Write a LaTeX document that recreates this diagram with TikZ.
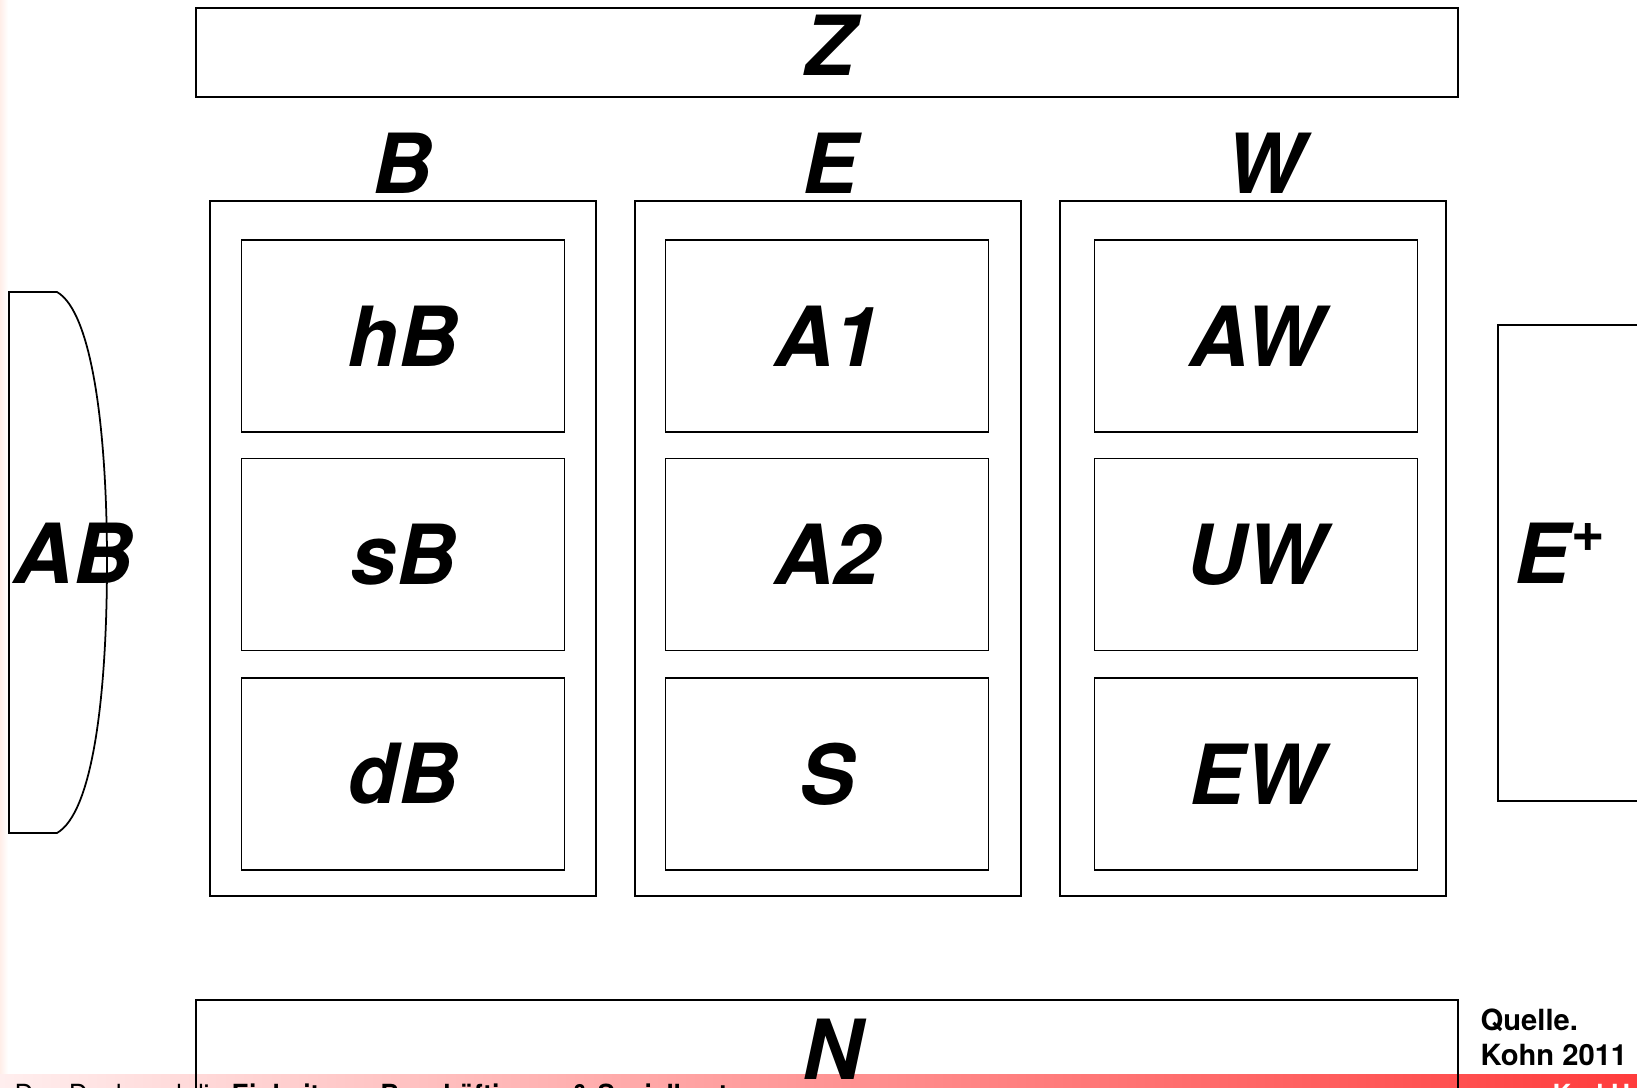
\documentclass[tikz,border=0pt]{standalone}
\usepackage{fontspec}
\setmainfont{TeX Gyre Heros}
\usetikzlibrary{positioning}
\definecolor{barlight}{RGB}{255,238,238}
\definecolor{barred}{RGB}{255,60,60}
\definecolor{edgepink}{RGB}{255,238,232}

\begin{document}
\begin{tikzpicture}[x=0.1mm,y=-0.1mm,
    lbl/.style={font=\fontsize{23.6}{26}\selectfont\bfseries\itshape},
    frame/.style={draw,line width=0.5pt},
    box/.style={frame,minimum width=32.3mm,minimum height=19.2mm,inner sep=0pt,lbl},
    col/.style={frame,minimum width=38.6mm,minimum height=69.5mm}]
  \useasboundingbox (0,0) rectangle (1637,1088);
  \clip (0,0) rectangle (1637,1088);
  % left edge and footer bar
  \shade[left color=edgepink,right color=white] (0,0) rectangle (8,1075);
  \shade[left color=barlight,right color=barred] (0,1075) rectangle (1637,1088);
  \node[anchor=base west,inner sep=0pt,font=\fontsize{7.5}{9}\selectfont] (foot) at (14,1104)
    {Das Dach und die \textbf{Einheit von Beschäftigung \& Sozialkosten}};
  \node[anchor=base west,inner sep=0pt,text=white,font=\fontsize{7.5}{9}\selectfont\bfseries] (karl) at (1552,1104) {Karl H};
  % top and bottom
  \node[frame,minimum width=126.2mm,minimum height=8.9mm] (z) at (827,52.5) {};
  \node[lbl,anchor=base] (zl) at (830,76) {Z};
  \draw[line width=0.5pt] (196,1100) |- (1458,1000) -- (1458,1100);
  \node[lbl,anchor=base] (n) at (832,1080) {N};
  \node[anchor=base west,align=left,inner sep=0pt,font=\fontsize{8.3}{9.96}\selectfont\bfseries] (src) at (1480,1066) {Quelle.\\Kohn 2011};
  % three columns
  \foreach \c/\cx/\hx/\ix/\a/\b/\d in {B/403/402/403/hB/sB/dB,E/828/830/827/A1/A2/S,W/1253/1265/1256/AW/UW/EW}{
    \node[col] (col\c) at (\cx,548.5) {};
    \node[lbl,anchor=base] (hd\c) at (\hx,194) {\c};
    \foreach \t/\y [count=\k] in {\a/336,\b/554.5,\d/774}
      \node[box] (\c\k) at (\ix,\y) {\t};
  }
  % sides
  \draw[line width=0.5pt] (9,292) -- (57,292) .. controls (92,312) and (107,430) .. (107,562)
    .. controls (107,700) and (92,813) .. (57,833) -- (9,833) -- cycle;
  \node[lbl] (ab) at (73,553) {AB};
  \draw[line width=0.5pt] (1680,325) -| (1498,801) -- (1680,801);
  \node[lbl,anchor=west,inner sep=0pt] (eplus) at (1514,553) {E\textsuperscript{+}};
\end{tikzpicture}
\end{document}
